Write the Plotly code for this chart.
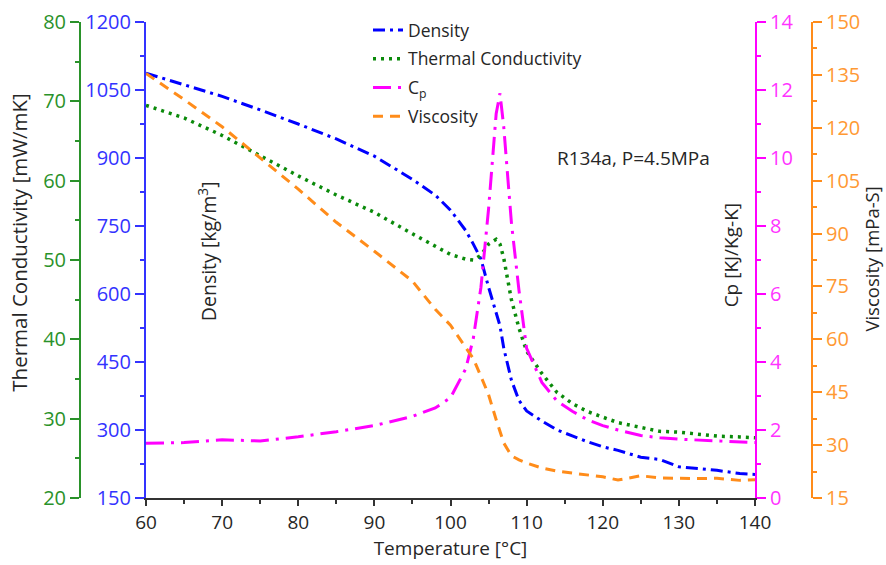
import plotly.graph_objects as go

# Temperature grid [°C]
temperature = [60, 65, 70, 75, 80, 85, 90, 95, 98, 100, 102, 103, 104, 105, 106, 106.5,
               107, 108, 109, 110, 112, 114, 116, 118, 120, 122, 125, 127.5, 130, 132,
               135, 138, 140]

# R134a properties at P = 4.5 MPa
density = [1087, 1062, 1036, 1006, 975, 942, 904, 853, 818, 785, 740, 710, 677, 615, 560, 530,
           480, 410, 365, 342, 320, 300, 287, 274, 263, 255, 240, 235, 219, 216,
           211, 204, 202]                                   # kg/m^3
conductivity = [69.5, 67.9, 65.7, 63.1, 60.6, 58.2, 56.0, 53.3, 51.7, 50.7, 50.1, 50.0, 50.6,
                52.0, 52.6, 52.0, 50.2, 45.0, 41.4, 38.5, 35.7, 33.3, 31.9, 30.9, 30.2,
                29.5, 28.9, 28.4, 28.3, 28.1, 27.8, 27.7, 27.6]  # mW/mK
cp = [1.61, 1.63, 1.71, 1.68, 1.80, 1.95, 2.13, 2.40, 2.65, 2.95, 3.8, 4.7, 6.2, 8.5, 11.3, 11.9,
      10.9, 8.1, 6.1, 4.4, 3.4, 2.85, 2.55, 2.3, 2.13, 2.0, 1.84, 1.77, 1.73, 1.71,
      1.67, 1.64, 1.63]                                       # kJ/kg-K
viscosity = [135.4, 128.0, 120.3, 111.5, 102.6, 93.2, 85.0, 76.5, 68.5, 64.0, 57.7, 54.5, 49.5,
             44.3, 37.2, 33.8, 30.6, 27.0, 25.8, 24.9, 23.5, 22.6, 22.0, 21.5, 21.0,
             20.1, 21.3, 20.7, 20.6, 20.5, 20.6, 20.0, 20.2]     # mPa-s

W, H = 886, 565
FONT = "Open Sans"
TXT = "#262626"

BLUE, GREEN, MAGENTA, ORANGE = "#0000ff", "#0a8a0a", "#ff00ff", "#ff8c1a"
BLUE_T, GREEN_T, MAGENTA_T, ORANGE_T = "#3333ff", "#2a922a", "#ff33ff", "#ff9933"

x0, x1 = 146, 755          # plot area, px
green_x, orange_x = 80, 812

fig = go.Figure()
fig.add_trace(go.Scatter(x=temperature, y=density, name="Density", mode="lines",
                         line=dict(color=BLUE, width=3, dash="12px,5px,3px,5px"),
                         yaxis="y", legendgroup="a"))
fig.add_trace(go.Scatter(x=temperature, y=conductivity, name="Thermal Conductivity", mode="lines",
                         line=dict(color=GREEN, width=3.5, dash="3px,5px"),
                         yaxis="y2", legendgroup="b"))
fig.add_trace(go.Scatter(x=temperature, y=cp, name="C<sub>p</sub>", mode="lines",
                         line=dict(color=MAGENTA, width=3, dash="18px,7px,3px,7px"),
                         yaxis="y3", legendgroup="c"))
fig.add_trace(go.Scatter(x=temperature, y=viscosity, name="Viscosity", mode="lines",
                         line=dict(color=ORANGE, width=3, dash="10px,7px"),
                         yaxis="y4", legendgroup="d"))


def yax(color, tcolor, rng, dtick, minor, **kw):
    d = dict(range=rng, dtick=dtick, tick0=rng[0], showgrid=False, zeroline=False,
             automargin=False, showline=True, linecolor=color, linewidth=2,
             ticks="outside", ticklen=9, tickwidth=2, tickcolor=color,
             tickfont=dict(family=FONT, size=20, color=tcolor),
             minor=dict(dtick=minor, tick0=rng[0], ticks="outside", ticklen=4,
                        tickwidth=2, tickcolor=color, showgrid=False))
    d.update(kw)
    return d


fig.update_layout(
    width=W, height=H, autosize=False,
    margin=dict(l=0, r=0, t=22, b=67),
    paper_bgcolor="white", plot_bgcolor="white",
    font=dict(family=FONT, color=TXT),
    xaxis=dict(domain=[x0 / W, x1 / W], range=[60, 140], dtick=10, showgrid=False,
               zeroline=False, automargin=False, showline=True, linecolor="#333333",
               linewidth=2, ticks="outside", ticklen=6, tickwidth=2, tickcolor="#333333",
               tickfont=dict(family=FONT, size=19, color=TXT),
               minor=dict(dtick=5, ticks="outside", ticklen=4, tickwidth=2,
                          tickcolor="#333333", showgrid=False),
               title=dict(text="Temperature [°C]", font=dict(family=FONT, size=19, color=TXT),
                          standoff=6)),
    yaxis=yax(BLUE_T, BLUE_T, [150, 1200], 150, 75, anchor="x", side="left"),
    yaxis2=yax(GREEN_T, GREEN_T, [20, 80], 10, 5, anchor="free", overlaying="y",
               side="left", position=green_x / W),
    yaxis3=yax(MAGENTA, MAGENTA_T, [0, 14], 2, 1, anchor="x", overlaying="y", side="right"),
    yaxis4=yax(ORANGE, ORANGE_T, [15, 150], 15, 7.5, anchor="free", overlaying="y",
               side="right", position=orange_x / W),
    legend=dict(x=368 / W, xanchor="left", y=1 - (12 - 22) / 476, yanchor="top",
                yref="paper", xref="paper", bgcolor="rgba(0,0,0,0)",
                font=dict(family=FONT, size=17.5, color=TXT), tracegroupgap=3,
                itemwidth=30),
    showlegend=True,
)

# Axis titles and the state annotation
def ann(text, xpx, ypx, angle=0, size=18.5):
    fig.add_annotation(text=text, x=xpx / W, y=1 - ypx / H, xref="paper", yref="paper",
                       xanchor="center", yanchor="middle", showarrow=False, textangle=angle,
                       font=dict(family=FONT, size=size, color=TXT))


ann("Thermal Conductivity [mW/mK]", 19, 262, -90, 20.5)
ann("Density [kg/m<sup>3</sup>]", 207, 272, -90, 19.5)
ann("Cp [KJ/Kg-K]", 731, 277, -90, 19)
ann("Viscosity [mPa-S]", 872, 282, -90, 18.5)
ann("R134a, P=4.5MPa", 633, 161, 0, 19)

fig.write_html("out.html", config={"responsive": False})
